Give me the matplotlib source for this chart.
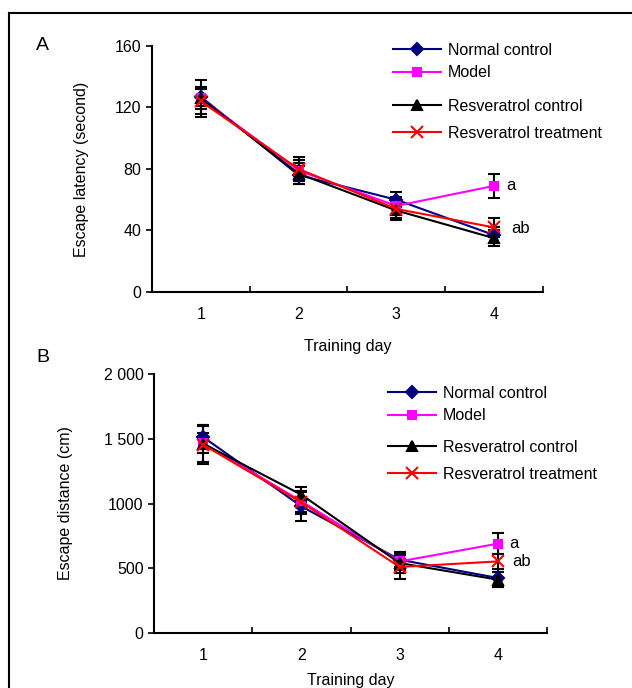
import numpy as np
import matplotlib
matplotlib.use('Agg')
import matplotlib.pyplot as plt
from matplotlib.lines import Line2D

plt.rcParams['font.family'] = ['Liberation Sans', 'DejaVu Sans']

days = [1, 2, 3, 4]
day_labels = ['1', '2', '3', '4']
groups = ['Normal control', 'Model', 'Resveratrol control', 'Resveratrol treatment']

# panel A: escape latency (s)
lat_normal = [127, 76, 60, 37]
lat_model = [126, 79, 56, 69]
lat_rescon = [126, 77, 53, 35]
lat_restre = [124, 80, 54, 42]
lat_normal_err = [6, 6, 5, 5]
lat_model_err = [7, 7, 6, 8]
lat_rescon_err = [12, 7, 6, 5]
lat_restre_err = [8, 8, 6, 6]

# panel B: escape distance (cm)
dist_normal = [1513, 978, 566, 425]
dist_model = [1467, 1017, 553, 690]
dist_rescon = [1462, 1068, 540, 412]
dist_restre = [1454, 1009, 510, 553]
dist_normal_err = [90, 110, 60, 70]
dist_model_err = [80, 80, 70, 80]
dist_rescon_err = [140, 60, 80, 60]
dist_restre_err = [150, 90, 90, 55]

colors = ['#000080', '#ff00ff', 'black', 'red']
markers = ['D', 's', '^', 'x']
msizes = [6, 6, 7, 8]
FS = 11.5


def panel(ax, series, errs, ymax, ystep, yticklabels, ylabel, ylpad, xlpad, notes):
    handles = []
    for i in range(4):
        ax.errorbar(days, series[i], yerr=errs[i], fmt='none', ecolor='black',
                    elinewidth=1.5, capsize=4, capthick=1.5, zorder=2)
    for i in range(4):
        h, = ax.plot(days, series[i], color=colors[i], marker=markers[i],
                     markersize=msizes[i], lw=1.5, mew=1.5, label=groups[i], zorder=3)
        handles.append(h)
    ax.set_xlim(0.5, 4.5)
    ax.set_ylim(0, ymax)
    ax.set_yticks(np.arange(0, ymax + 1, ystep))
    ax.set_yticklabels(yticklabels)
    ax.set_xticks(days)
    ax.set_xticklabels(day_labels)
    ax.set_xticks([1.5, 2.5, 3.5, 4.5], minor=True)
    ax.tick_params(axis='x', which='major', length=0, pad=11, labelsize=FS)
    ax.tick_params(axis='x', which='minor', direction='in', length=4, width=1.2)
    ax.tick_params(axis='y', direction='out', length=4, width=1.2, labelsize=FS)
    for s in ['top', 'right']:
        ax.spines[s].set_visible(False)
    for s in ['left', 'bottom']:
        ax.spines[s].set_linewidth(1.5)
    ax.set_ylabel(ylabel, fontsize=FS, labelpad=ylpad)
    ax.set_xlabel('Training day', fontsize=FS, labelpad=xlpad)
    for txt, yv, dx in notes:
        ax.text(4 + dx, yv, txt, fontsize=12, va='center', ha='left')
    return handles


fig = plt.figure(figsize=(6.32, 6.88), dpi=100)
axA = fig.add_axes([0.2405, 0.5756, 0.6185, 0.3576])
axB = fig.add_axes([0.2437, 0.0799, 0.6218, 0.3765])

hA = panel(axA, [lat_normal, lat_model, lat_rescon, lat_restre],
           [lat_normal_err, lat_model_err, lat_rescon_err, lat_restre_err],
           160, 40, ['0', '40', '80', '120', '160'], 'Escape latency (second)', 19, 12,
           [('a', 69, 0.12), ('ab', 41, 0.18)])
hB = panel(axB, [dist_normal, dist_model, dist_rescon, dist_restre],
           [dist_normal_err, dist_model_err, dist_rescon_err, dist_restre_err],
           2000, 500, ['0', '500', '1000', '1 500', '2 000'], 'Escape distance (cm)', 22, 7,
           [('a', 690, 0.12), ('ab', 553, 0.15)])

leg_kw = dict(frameon=False, fontsize=FS, handlelength=3.0, handletextpad=0.45,
              borderpad=0, borderaxespad=0, loc='upper left')
for ax, h, x0, ys in [(axA, hA, 393 / 632, (1 - 43 / 688, 1 - 99 / 688)),
                      (axB, hB, 388 / 632, (1 - 386 / 688, 1 - 440 / 688))]:
    l1 = ax.legend(h[:2], groups[:2], bbox_to_anchor=(x0, ys[0]),
                   bbox_transform=fig.transFigure, labelspacing=0.45, **leg_kw)
    ax.add_artist(l1)
    ax.legend(h[2:], groups[2:], bbox_to_anchor=(x0, ys[1]),
              bbox_transform=fig.transFigure, labelspacing=0.75, **leg_kw)

fig.text(36 / 632, 1 - 45 / 688, 'A', fontsize=14, va='center')
fig.text(36 / 632, 1 - 358 / 688, 'B', fontsize=14, va='center')

# outer frame (cut at right and bottom)
fig.add_artist(Line2D([9 / 632, 1], [1 - 13 / 688, 1 - 13 / 688], color='black',
                      lw=1.5, transform=fig.transFigure))
fig.add_artist(Line2D([9 / 632, 9 / 632], [0, 1 - 13 / 688], color='black',
                      lw=1.5, transform=fig.transFigure))

plt.savefig('out.png', dpi=100)
